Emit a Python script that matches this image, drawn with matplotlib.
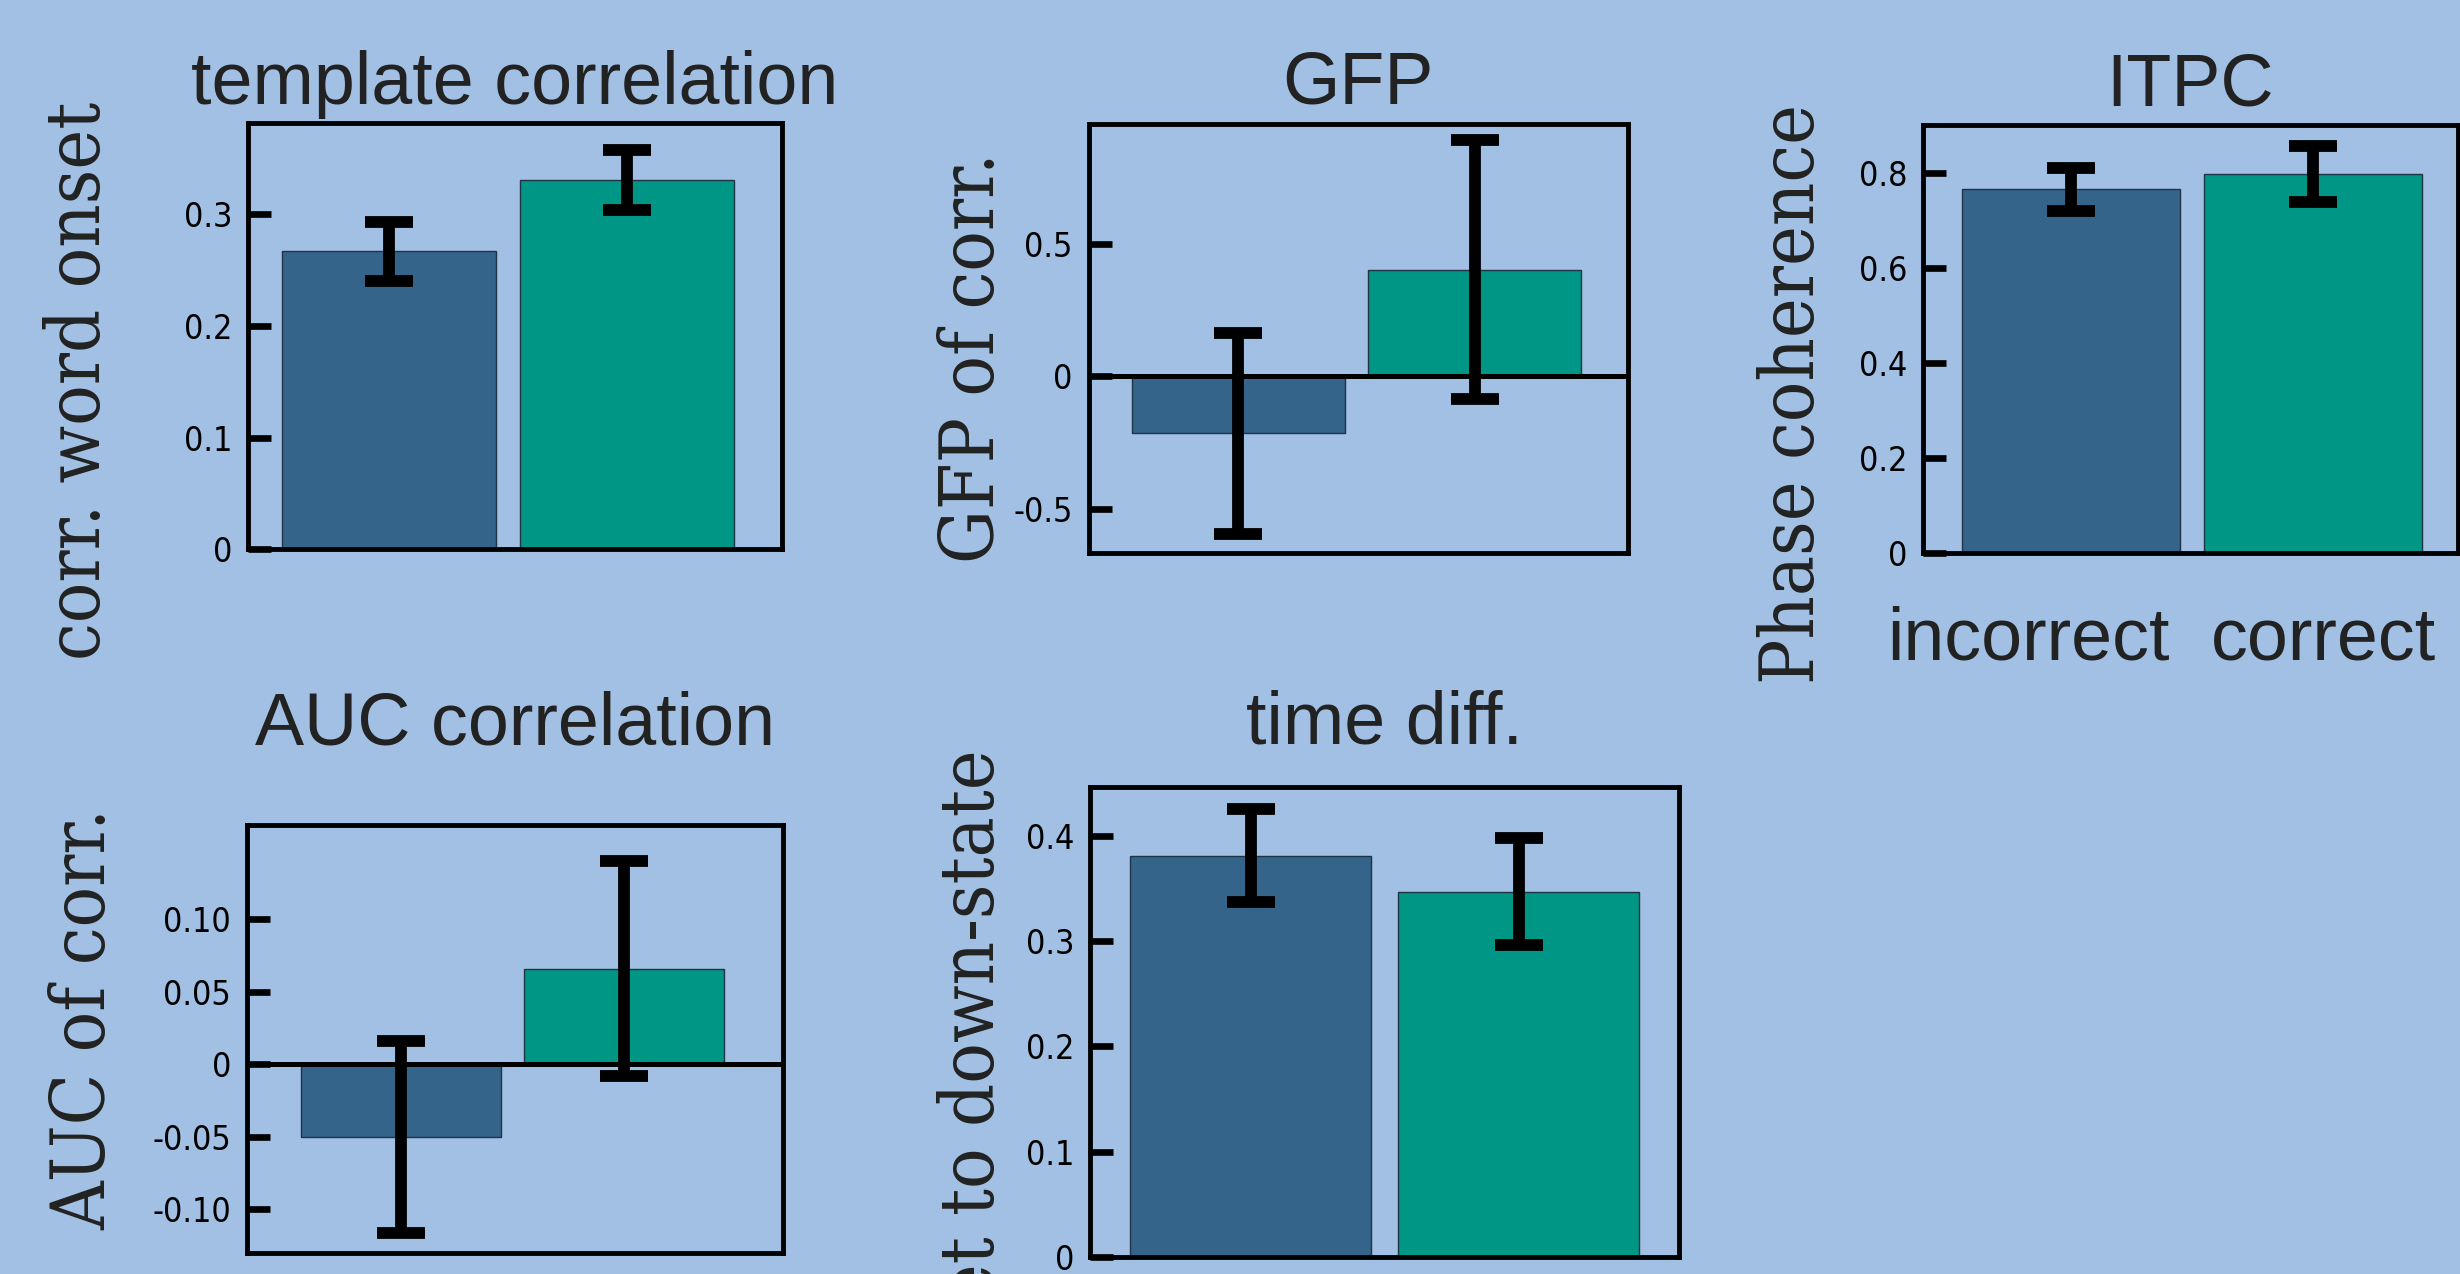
import matplotlib
matplotlib.use('Agg')
import matplotlib.pyplot as plt
from matplotlib import font_manager as fm

# values (incorrect, correct)
conditions = ['incorrect', 'correct']
template_mean = [0.267, 0.331]
template_err = [0.0265, 0.027]
gfp_mean = [-0.214, 0.403]
gfp_err = [0.379, 0.488]
itpc_mean = [0.765, 0.797]
itpc_err = [0.045, 0.059]
auc_mean = [-0.050, 0.066]
auc_err = [0.066, 0.074]
tdiff_mean = [0.381, 0.347]
tdiff_err = [0.044, 0.051]

template_ticks = [0, 0.1, 0.2, 0.3]
template_ticklabels = ['0', '0.1', '0.2', '0.3']
gfp_ticks = [-0.5, 0, 0.5]
gfp_ticklabels = ['-0.5', '0', '0.5']
itpc_ticks = [0, 0.2, 0.4, 0.6, 0.8]
itpc_ticklabels = ['0', '0.2', '0.4', '0.6', '0.8']
auc_ticks = [-0.10, -0.05, 0, 0.05, 0.10]
auc_ticklabels = ['-0.10', '-0.05', '0', '0.05', '0.10']
tdiff_ticks = [0, 0.1, 0.2, 0.3, 0.4]
tdiff_ticklabels = ['0', '0.1', '0.2', '0.3', '0.4']

BG = '#a2c0e3'
BLUE = '#35648a'
TEAL = '#009685'
EDGE = '#1e3344'
TXT = '#222222'

W, H = 2460, 1274


def find_condensed(family):
    # DejaVu condensed files, if the system has them
    for f in fm.fontManager.ttflist:
        if family in f.name and (f.stretch == 'condensed' or 'Condensed' in f.name) \
                and f.style == 'normal' and f.weight in (400, 'normal', 'book', 'regular'):
            return f.fname
    return None


serif_c = find_condensed('DejaVu Serif')
sans_c = find_condensed('DejaVu Sans')
if serif_c:
    ylab_fp = fm.FontProperties(fname=serif_c, size=54)
else:
    ylab_fp = fm.FontProperties(family='DejaVu Serif', size=49.5)
if sans_c:
    tick_fp = fm.FontProperties(fname=sans_c, size=24.5)
else:
    tick_fp = fm.FontProperties(family='DejaVu Sans', size=22.5)

fig = plt.figure(figsize=(24.6, 12.74), dpi=100, facecolor=BG)


def px(x, y):
    return x / W, 1 - y / H


def add_panel(box, means, errs, xlim, ylim, ticks, ticklabels, title, title_pad, zero_line=False):
    L, T, R, B = box
    ax = fig.add_axes([L / W, 1 - B / H, (R - L) / W, (B - T) / H])
    ax.set_facecolor(BG)
    x = [1, 2]
    ax.bar(x, means, width=0.9, color=[BLUE, TEAL], edgecolor=EDGE, linewidth=1.0, zorder=2)
    if zero_line:
        ax.axhline(0, color='k', lw=3.6, zorder=3)
    ax.errorbar(x, means, yerr=errs, fmt='none', ecolor='k', elinewidth=8.5,
                capsize=17, capthick=8.5, zorder=4)
    ax.set_xlim(xlim)
    ax.set_ylim(ylim)
    ax.set_xticks([])
    ax.set_yticks(ticks)
    ax.set_yticklabels(ticklabels, fontproperties=tick_fp)
    ax.tick_params(axis='y', direction='in', length=16.5, width=4.8, pad=11.3, colors='k')
    for s in ax.spines.values():
        s.set_linewidth(3.5)
    ax.set_title(title, fontsize=53, family='Liberation Sans', color=TXT, pad=title_pad)
    return ax


add_panel((247.7, 122.7, 781.7, 549.3), template_mean, template_err, (0.405, 2.649), (0, 0.382),
          template_ticks, template_ticklabels, 'template correlation', 13.7)
add_panel((1088.5, 124.4, 1627.9, 553.4), gfp_mean, gfp_err, (0.366, 2.648), (-0.667, 0.95),
          gfp_ticks, gfp_ticklabels, 'GFP', 15, zero_line=True)
add_panel((1923, 125, 2458, 552.7), itpc_mean, itpc_err, (0.39, 2.60), (0, 0.9),
          itpc_ticks, itpc_ticklabels, 'ITPC', 14.4)
add_panel((246.7, 825.1, 783.3, 1252.9), auc_mean, auc_err, (0.304, 2.718), (-0.13, 0.165),
          auc_ticks, auc_ticklabels, 'AUC correlation', 57.9, zero_line=True)
add_panel((1090.1, 787.3, 1679.4, 1256.9), tdiff_mean, tdiff_err, (0.4, 2.6), (0, 0.446),
          tdiff_ticks, tdiff_ticklabels, 'time diff.', 31.5)

# condition names under the ITPC panel
for name, xc in zip(conditions, [2028.4, 2324]):
    fig.text(*px(xc, 660), name, fontsize=53, family='Liberation Sans', color=TXT,
             ha='center', va='baseline')

# y labels, placed by hand like in the composed figure
ylabels = [
    ('corr. word onset', 100.3, 381, 'center'),
    ('GFP of corr.', 993.6, 357.5, 'center'),
    ('Phase coherence', 1814, 394, 'center'),
    ('AUC of corr.', 105.7, 1019, 'center'),
    ('onset to down-state', 993.7, 749.5, 'right'),
]
for text, bx, by, ha in ylabels:
    fig.text(*px(bx, by), text, fontproperties=ylab_fp, color=TXT, rotation=90,
             rotation_mode='anchor', ha=ha, va='baseline')

fig.savefig('out.png', dpi=100, facecolor=BG)
